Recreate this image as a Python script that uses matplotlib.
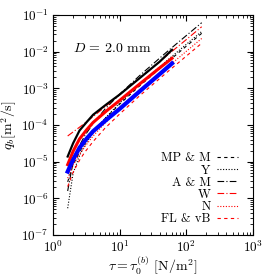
import numpy as np
import matplotlib
matplotlib.use('Agg')
import matplotlib.pyplot as plt

plt.rcParams['font.family'] = 'serif'
plt.rcParams['font.serif'] = ['cmr10']
plt.rcParams['mathtext.fontset'] = 'cm'
plt.rcParams['axes.formatter.use_mathtext'] = True

# measured curves (thick), log10 of q_b
tau_meas = [1.66, 2.0, 2.5, 3.2, 4.0, 6.3, 10.0, 20.0, 40.0, 61.0]
logq_black = [-4.86, -4.50, -4.15, -3.92, -3.72, -3.44, -3.17, -2.72, -2.27, -1.95]
logq_red = [-5.08, -4.72, -4.38, -4.13, -3.93, -3.62, -3.33, -2.88, -2.44, -2.18]
logq_blue = [-5.27, -4.95, -4.62, -4.37, -4.17, -3.86, -3.56, -3.08, -2.61, -2.32]

# empirical formulas (thin), log10 of q_b
tau_form = [1.66, 2.0, 2.5, 3.0, 4.0, 6.0, 10.0, 20.0, 50.0, 100.0, 170.0]
logq_mpm = [-5.55, -5.09, -4.73, -4.50, -4.20, -3.83, -3.43, -2.93, -2.31, -1.85, -1.50]
logq_y = [-6.27, -5.32, -4.83, -4.55, -4.21, -3.82, -3.40, -2.89, -2.26, -1.80, -1.45]
logq_am = [-5.80, -5.01, -4.56, -4.29, -3.96, -3.57, -3.16, -2.65, -2.02, -1.56, -1.21]
logq_w = [-4.30, -4.19, -4.06, -3.95, -3.77, -3.51, -3.17, -2.72, -2.12, -1.67, -1.32]
logq_n = [-5.45, -5.10, -4.80, -4.59, -4.30, -3.95, -3.56, -3.07, -2.45, -1.99, -1.64]
logq_flvb = [-5.68, -5.29, -4.96, -4.74, -4.45, -4.09, -3.70, -3.20, -2.58, -2.12, -1.77]

fig = plt.figure(figsize=(2.76, 2.76), dpi=100)
ax = fig.add_axes([53/276., 41/276., 200/276., 220/276.])

ax.plot(tau_meas, 10**np.array(logq_black), 'k-', lw=1.6, zorder=3)
ax.plot(tau_meas, 10**np.array(logq_red), '-', color='#ff0000', lw=2.2, zorder=3)
ax.plot(tau_meas, 10**np.array(logq_blue), '-', color='#0000ff', lw=3.0, zorder=3)

tf = np.array(tau_form)
ax.plot(tf, 10**np.array(logq_mpm), color='k', ls=(0, (3, 3)), lw=0.8, label='MP & M')
ax.plot(tf, 10**np.array(logq_y), color='k', ls=(0, (1, 1.5)), lw=0.8, label='Y')
ax.plot(tf, 10**np.array(logq_am), color='k', ls=(0, (6, 2, 1, 2)), lw=0.8, label='A & M')
ax.plot(tf, 10**np.array(logq_w), color='#ff0000', ls=(0, (6, 2, 1, 2)), lw=0.8, label='W')
ax.plot(tf, 10**np.array(logq_n), color='#ff0000', ls=(0, (1, 1.5)), lw=0.8, label='N')
ax.plot(tf, 10**np.array(logq_flvb), color='#ff0000', ls=(0, (3, 3)), lw=0.8, label='FL & vB')

ax.set_xscale('log')
ax.set_yscale('log')
ax.set_xlim(1, 1000)
ax.set_ylim(1e-7, 1e-1)
ax.tick_params(which='both', direction='in', top=True, right=True, labelsize=9.5)
ax.tick_params(which='major', length=4, pad=3)
ax.tick_params(which='minor', length=2)
ax.yaxis.set_minor_locator(matplotlib.ticker.LogLocator(base=10, subs=np.arange(2, 10), numticks=20))
ax.yaxis.set_minor_formatter(matplotlib.ticker.NullFormatter())

ax.set_xlabel(r'$\tau = \tau_0^{(b)}$ [N/m$^2$]', fontsize=10)
ax.xaxis.set_label_coords(0.5, -0.088)
ax.set_ylabel(r'$q_b[\mathrm{m}^2/\mathrm{s}]$', fontsize=10)
ax.yaxis.set_label_coords(-0.17, 0.5)
ax.text(0.1, 0.83, r'$D\,=\,2.0$ mm', transform=ax.transAxes, fontsize=10)

leg = ax.legend(loc='lower right', frameon=False, fontsize=9, markerfirst=False,
                handlelength=1.7, handletextpad=0.5, labelspacing=0.0,
                borderaxespad=0.4, bbox_to_anchor=(0.975, 0.0))

fig.savefig('out.png', dpi=100)
